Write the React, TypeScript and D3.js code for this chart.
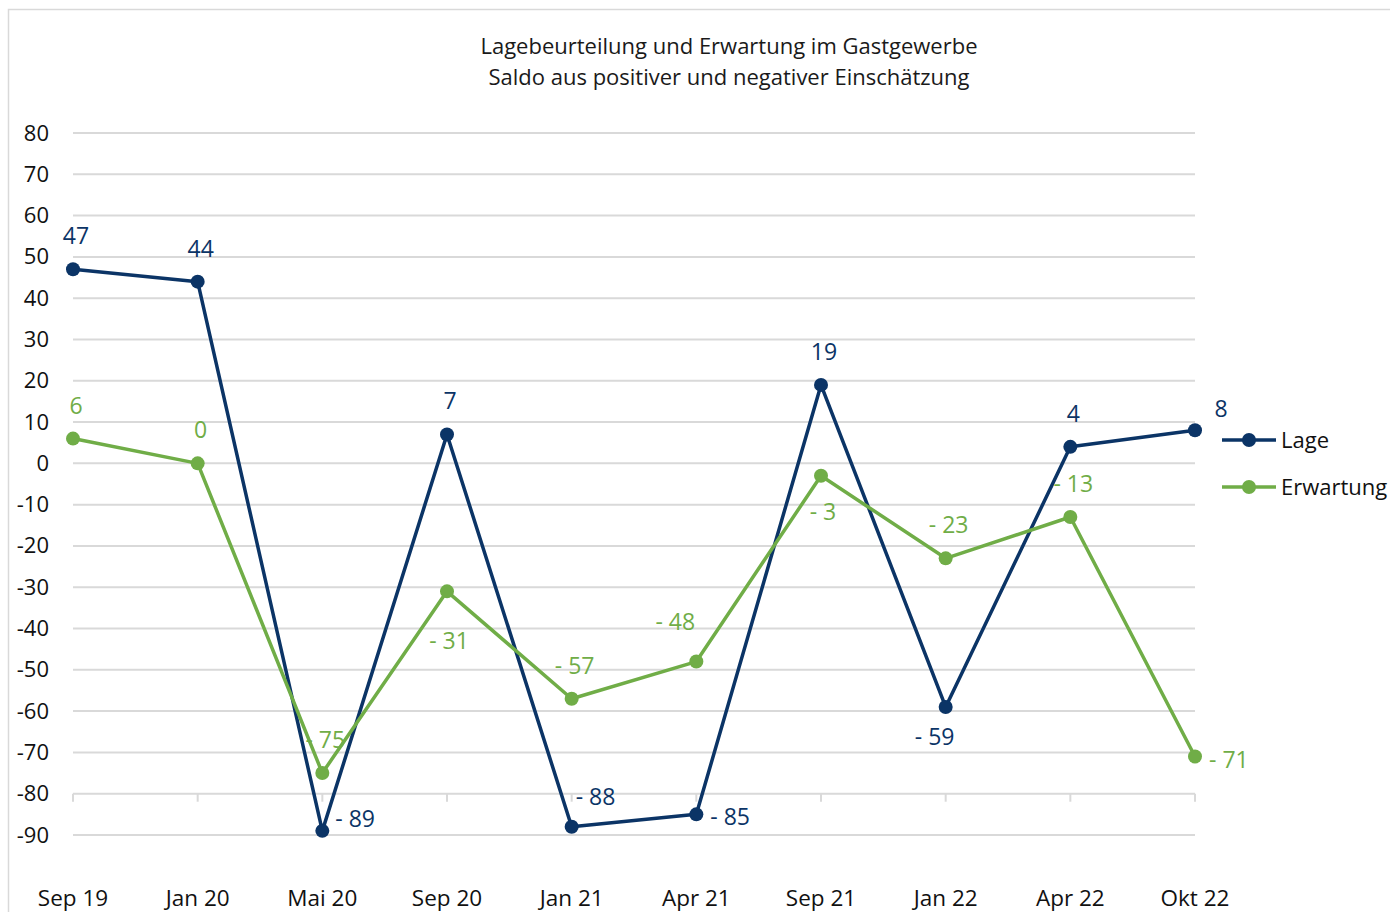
import React from "react";
import * as d3 from "d3";

const categories = ["Sep 19", "Jan 20", "Mai 20", "Sep 20", "Jan 21", "Apr 21", "Sep 21", "Jan 22", "Apr 22", "Okt 22"];
const lageValues = [47, 44, -89, 7, -88, -85, 19, -59, 4, 8];
const erwartungValues = [6, 0, -75, -31, -57, -48, -3, -23, -13, -71];
const lagePlacement = ["above", "above", "rightLow", "above", "rightHigh", "right", "above", "below", "above", "aboveRight"];
const erwartungPlacement = ["above", "above", "above", "belowFar", "above", "aboveLeft", "belowMid", "above", "above", "right"];
const yTicks = [80, 70, 60, 50, 40, 30, 20, 10, 0, -10, -20, -30, -40, -50, -60, -70, -80, -90];
const titleLines = ["Lagebeurteilung und Erwartung im Gastgewerbe", "Saldo aus positiver und negativer Einschätzung"];
const seriesNames = ["Lage", "Erwartung"];

const NAVY = "#0b3466";
const GREEN = "#70ad47";
const GRID = "#d9d9d9";
const FONT = "'Open Sans', sans-serif";

const offsets: Record<string, { dx: number; dy: number; anchor: string }> = {
  above: { dx: 3, dy: -33, anchor: "middle" },
  below: { dx: -11, dy: 30, anchor: "middle" },
  belowMid: { dx: 2, dy: 36, anchor: "middle" },
  belowFar: { dx: 2, dy: 50, anchor: "middle" },
  right: { dx: 14, dy: 3, anchor: "start" },
  rightLow: { dx: 13, dy: -12, anchor: "start" },
  rightHigh: { dx: 4, dy: -30, anchor: "start" },
  aboveLeft: { dx: -21, dy: -40, anchor: "middle" },
  aboveRight: { dx: 26, dy: -21, anchor: "middle" },
};

function fmt(v: number) {
  return v < 0 ? "- " + Math.abs(v) : String(v);
}

export default function App() {
  const x = d3.scalePoint<string>().domain(categories).range([73, 1195]);
  const y = d3.scaleLinear().domain([-90, 80]).range([835, 133]);
  const line = d3
    .line<number>()
    .x((_, i) => x(categories[i]) as number)
    .y((d) => y(d));

  const series = [
    { name: seriesNames[0], values: lageValues, color: NAVY, placement: lagePlacement },
    { name: seriesNames[1], values: erwartungValues, color: GREEN, placement: erwartungPlacement },
  ];

  return (
    <svg width={1390} height={912} style={{ position: "absolute", left: 0, top: 0, background: "#fff" }} fontFamily={FONT}>
      <rect x={8.5} y={9.5} width={1400} height={920} fill="#fff" stroke={GRID} strokeWidth={1.5} />
      {titleLines.map((t, i) => (
        <text key={t} x={729} y={54 + i * 31} textAnchor="middle" fontSize={22} fill="#1a1a1a">
          {t}
        </text>
      ))}
      {yTicks.map((t) => (
        <g key={t}>
          <line x1={73} x2={1195} y1={y(t)} y2={y(t)} stroke={GRID} strokeWidth={2} />
          <text x={49} y={y(t) + 7.5} textAnchor="end" fontSize={22} fill="#111">
            {t < 0 ? "-" + Math.abs(t) : t}
          </text>
        </g>
      ))}
      {categories.map((c) => (
        <g key={c}>
          <line x1={x(c)} x2={x(c)} y1={y(-80)} y2={y(-80) + 8} stroke={GRID} strokeWidth={2} />
          <text x={x(c)} y={906} textAnchor="middle" fontSize={22.5} fill="#111">
            {c}
          </text>
        </g>
      ))}
      {series.map((s) => (
        <g key={s.name}>
          <path d={line(s.values) || ""} fill="none" stroke={s.color} strokeWidth={3.5} strokeLinejoin="round" />
          {s.values.map((v, i) => (
            <circle key={i} cx={x(categories[i])} cy={y(v)} r={7} fill={s.color} />
          ))}
          {s.values.map((v, i) => {
            const o = offsets[s.placement[i]];
            return (
              <text
                key={"l" + i}
                x={(x(categories[i]) as number) + o.dx}
                y={y(v) + o.dy + 8}
                textAnchor={o.anchor}
                fontSize={23}
                fill={s.color}
              >
                {fmt(v)}
              </text>
            );
          })}
        </g>
      ))}
      {series.map((s, i) => (
        <g key={"leg" + s.name} transform={`translate(1222, ${440 + i * 47})`}>
          <line x1={0} x2={54} y1={0} y2={0} stroke={s.color} strokeWidth={3.5} />
          <circle cx={27} cy={0} r={7} fill={s.color} />
          <text x={59} y={8} fontSize={22} fill="#111">
            {s.name}
          </text>
        </g>
      ))}
    </svg>
  );
}
